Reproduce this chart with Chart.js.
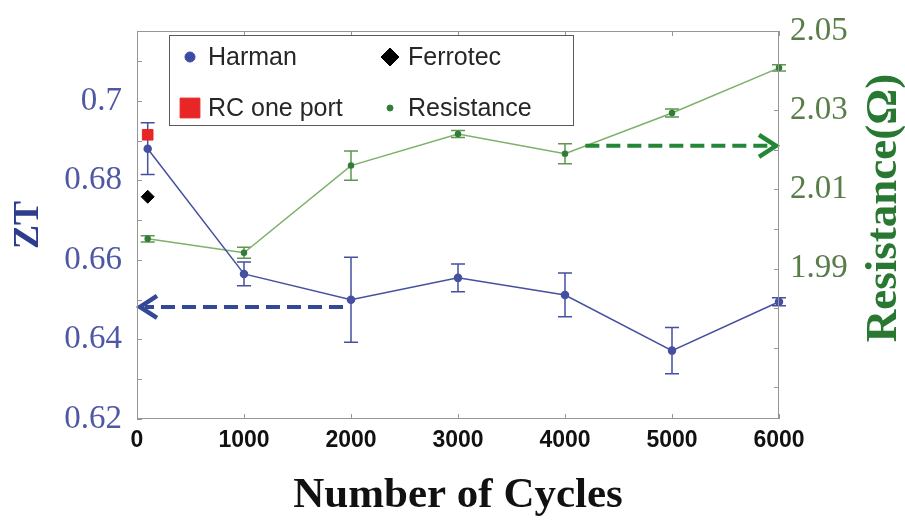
<!DOCTYPE html>
<html>
<head>
<meta charset="utf-8">
<script src="https://cdn.jsdelivr.net/npm/chart.js@4.4.1/dist/chart.umd.min.js"></script>
<style>
  html, body { margin: 0; padding: 0; background: #fff; }
  #wrap { width: 905px; height: 527px; }
</style>
</head>
<body>
<div id="wrap"><canvas id="ztChart" width="905" height="527"></canvas></div>
<script>
// x positions (number of cycles)
const cycles = [100, 1000, 2000, 3000, 4000, 5000, 6000];

// Harman ZT with error bars
const harmanZT = [0.688, 0.6565, 0.650, 0.6555, 0.6512, 0.6372, 0.6495];
const harmanErr = [0.0065, 0.003, 0.0107, 0.0035, 0.0055, 0.0058, 0.001];

// resistance (ohm), right axis
const resistance = [1.9975, 1.994, 2.016, 2.024, 2.019, 2.0293, 2.0407];
const resistanceErr = [0.0008, 0.0014, 0.0037, 0.0009, 0.0025, 0.001, 0.0008];

// single points at the start
const startCycle = [100];
const ferrotecZT = [0.6759];
const rcOnePortZT = [0.6915];

// tick labels
const cycleTicks = [0, 1000, 2000, 3000, 4000, 5000, 6000];
const ztTicks = [0.62, 0.64, 0.66, 0.68, 0.7];
const resTicks = [1.99, 2.01, 2.03, 2.05];

// dashed arrows: from cycle, to cycle, value on own axis
const ztArrow = [1925, 0, 0.6482];
const resArrow = [4190, 6000, 2.021];

const blue = 'rgb(70,80,160)';
const green = 'rgb(125,176,105)';
const dotGreen = 'rgb(50,125,55)';
const red = 'rgb(232,38,38)';

const pts = (xs, ys) => xs.map((x, i) => ({ x: x, y: ys[i] }));

// error bars, arrows, border, inner ticks, legend, right title
const decor = {
  id: 'decor',
  beforeDatasetsDraw(chart) {
    const ctx = chart.ctx;
    chart.data.datasets.forEach((ds, i) => {
      if (!ds.errors) return;
      const meta = chart.getDatasetMeta(i);
      const ys = chart.scales[ds.yAxisID];
      ctx.save();
      ctx.strokeStyle = ds.errorColor;
      ctx.lineWidth = 1.5;
      meta.data.forEach((pt, j) => {
        const v = ds.data[j].y, e = ds.errors[j];
        const t = ys.getPixelForValue(v + e), b = ys.getPixelForValue(v - e);
        ctx.beginPath();
        ctx.moveTo(pt.x, t); ctx.lineTo(pt.x, b);
        ctx.moveTo(pt.x - 7, t); ctx.lineTo(pt.x + 7, t);
        ctx.moveTo(pt.x - 7, b); ctx.lineTo(pt.x + 7, b);
        ctx.stroke();
      });
      ctx.restore();
    });
  },
  afterDraw(chart) {
    const ctx = chart.ctx;
    const ca = chart.chartArea;
    const sx = chart.scales.x, sy = chart.scales.y, sr = chart.scales.y1;

    // arrows
    const arrow = (a, scale, color) => {
      const x0 = sx.getPixelForValue(a[0]), x1 = sx.getPixelForValue(a[1]);
      const y = scale.getPixelForValue(a[2]);
      const dir = Math.sign(x1 - x0);
      ctx.save();
      ctx.strokeStyle = color;
      ctx.lineWidth = 4;
      ctx.setLineDash([14, 7]);
      ctx.beginPath(); ctx.moveTo(x0, y); ctx.lineTo(x1 - dir * 8, y); ctx.stroke();
      ctx.setLineDash([]);
      ctx.lineWidth = 4.5;
      ctx.beginPath();
      ctx.moveTo(x1 - dir * 20, y - 11); ctx.lineTo(x1 - dir * 3, y); ctx.lineTo(x1 - dir * 20, y + 11);
      ctx.stroke();
      ctx.restore();
    };
    arrow(ztArrow, sy, 'rgb(52,72,152)');
    arrow(resArrow, sr, 'rgb(35,135,55)');

    // frame and inward ticks
    ctx.save();
    ctx.strokeStyle = 'rgb(150,150,150)';
    ctx.lineWidth = 1;
    ctx.strokeRect(ca.left + 0.5, ca.top + 0.5, ca.right - ca.left - 1, ca.bottom - ca.top - 1);
    ctx.beginPath();
    cycleTicks.forEach(v => {
      const x = Math.round(sx.getPixelForValue(v)) + 0.5;
      ctx.moveTo(x, ca.bottom); ctx.lineTo(x, ca.bottom - 5);
      ctx.moveTo(x, ca.top); ctx.lineTo(x, ca.top + 5);
    });
    for (let k = 0; k <= 9; k++) {
      const yl = Math.round(sy.getPixelForValue(0.62 + k * 0.01)) + 0.5;
      ctx.moveTo(ca.left, yl); ctx.lineTo(ca.left + 5, yl);
      const yr = Math.round(sr.getPixelForValue(2.05 - k * 0.01)) + 0.5;
      ctx.moveTo(ca.right, yr); ctx.lineTo(ca.right - 5, yr);
    }
    ctx.stroke();
    ctx.restore();

    // legend box, 2 x 2
    const bx = ca.left + 32, by = ca.top + 4, bw = 404, bh = 90;
    ctx.save();
    ctx.fillStyle = '#fff';
    ctx.fillRect(bx, by, bw, bh);
    ctx.strokeStyle = 'rgb(90,90,90)';
    ctx.lineWidth = 1;
    ctx.strokeRect(bx + 0.5, by + 0.5, bw, bh);
    ctx.font = '25px "Liberation Sans", Arial, sans-serif';
    ctx.textBaseline = 'middle';
    chart.data.datasets.forEach((ds, i) => {
      const col = i % 2, row = Math.floor(i / 2);
      const mx = bx + 21 + col * 200, my = by + 22 + row * 51;
      ctx.fillStyle = ds.legendColor;
      ctx.strokeStyle = ds.legendColor;
      Chart.helpers.drawPoint(ctx, { pointStyle: ds.pointStyle || 'circle', radius: ds.legendRadius, rotation: 0, borderWidth: 1 }, mx, my);
      ctx.fillStyle = '#262626';
      ctx.fillText(ds.label, mx + 18, my + 1);
    });
    ctx.restore();

    // right axis title, reading upward
    ctx.save();
    ctx.translate(chart.width - 21, (ca.top + ca.bottom) / 2 - 17);
    ctx.rotate(-Math.PI / 2);
    ctx.font = 'bold 45px "Liberation Serif", "Times New Roman", serif';
    ctx.fillStyle = 'rgb(40,120,50)';
    ctx.textAlign = 'center';
    ctx.textBaseline = 'middle';
    ctx.fillText('Resistance(Ω)', 0, 0);
    ctx.restore();
  }
};

const data = {
  datasets: [
    {
      label: 'Harman',
      data: pts(cycles, harmanZT),
      yAxisID: 'y',
      borderColor: blue,
      backgroundColor: blue,
      borderWidth: 1.5,
      pointRadius: 3.5,
      pointStyle: 'circle',
      errors: harmanErr,
      errorColor: blue,
      legendColor: 'rgb(60,75,165)',
      legendRadius: 5,
      clip: false
    },
    {
      label: 'Ferrotec',
      data: pts(startCycle, ferrotecZT),
      yAxisID: 'y',
      showLine: false,
      pointStyle: 'rectRot',
      pointRadius: 6.5,
      backgroundColor: '#000',
      borderColor: '#000',
      legendColor: '#000',
      legendRadius: 9,
      clip: false
    },
    {
      label: 'RC one port',
      data: pts(startCycle, rcOnePortZT),
      yAxisID: 'y',
      showLine: false,
      pointStyle: 'rect',
      pointRadius: 7.5,
      backgroundColor: red,
      borderColor: red,
      legendColor: red,
      legendRadius: 14,
      clip: false
    },
    {
      label: 'Resistance',
      data: pts(cycles, resistance),
      yAxisID: 'y1',
      borderColor: green,
      backgroundColor: dotGreen,
      pointBorderColor: dotGreen,
      borderWidth: 1.5,
      pointRadius: 2.5,
      pointStyle: 'circle',
      errors: resistanceErr,
      errorColor: 'rgb(95,150,80)',
      legendColor: dotGreen,
      legendRadius: 3,
      clip: false
    }
  ]
};

const serif = '"Liberation Serif", "Times New Roman", serif';

const config = {
  type: 'line',
  data: data,
  plugins: [decor],
  options: {
    responsive: false,
    animation: false,
    devicePixelRatio: 1,
    layout: { padding: { top: 31, left: 0, right: 0, bottom: 0 } },
    plugins: { legend: { display: false }, tooltip: { enabled: false } },
    scales: {
      x: {
        type: 'linear',
        min: 0,
        max: 6000,
        afterBuildTicks: s => { s.ticks = cycleTicks.map(v => ({ value: v })); },
        afterFit: s => { s.height = 108; },
        grid: { display: false },
        border: { display: false },
        ticks: {
          padding: 0,
          color: '#111',
          maxRotation: 0,
          font: { family: '"Liberation Sans", Arial, sans-serif', size: 23, weight: 'bold' },
          callback: v => String(v)
        },
        title: {
          display: true,
          text: 'Number of Cycles',
          color: '#111',
          padding: { top: 0, bottom: 5 },
          font: { family: serif, size: 43, weight: 'bold' }
        }
      },
      y: {
        position: 'left',
        min: 0.62,
        max: 0.7176,
        afterBuildTicks: s => { s.ticks = ztTicks.map(v => ({ value: v })); },
        afterFit: s => { s.width = 137; },
        grid: { display: false },
        border: { display: false },
        ticks: {
          padding: 7,
          color: 'rgb(78,88,165)',
          font: { family: serif, size: 33 },
          callback: v => String(+v.toFixed(2))
        },
        title: {
          display: true,
          text: 'ZT',
          color: 'rgb(45,60,140)',
          padding: { top: 7, bottom: 0 },
          font: { family: serif, size: 36, weight: 'bold' }
        }
      },
      y1: {
        position: 'right',
        min: 1.952,
        max: 2.05,
        afterBuildTicks: s => { s.ticks = resTicks.map(v => ({ value: v })); },
        afterFit: s => { s.width = 126; },
        grid: { display: false },
        border: { display: false },
        ticks: {
          padding: 3,
          color: 'rgb(88,125,72)',
          font: { family: serif, size: 33 },
          callback: v => v.toFixed(2)
        }
      }
    }
  }
};

const zChart = new Chart(document.getElementById('ztChart'), config);
</script>
</body>
</html>
